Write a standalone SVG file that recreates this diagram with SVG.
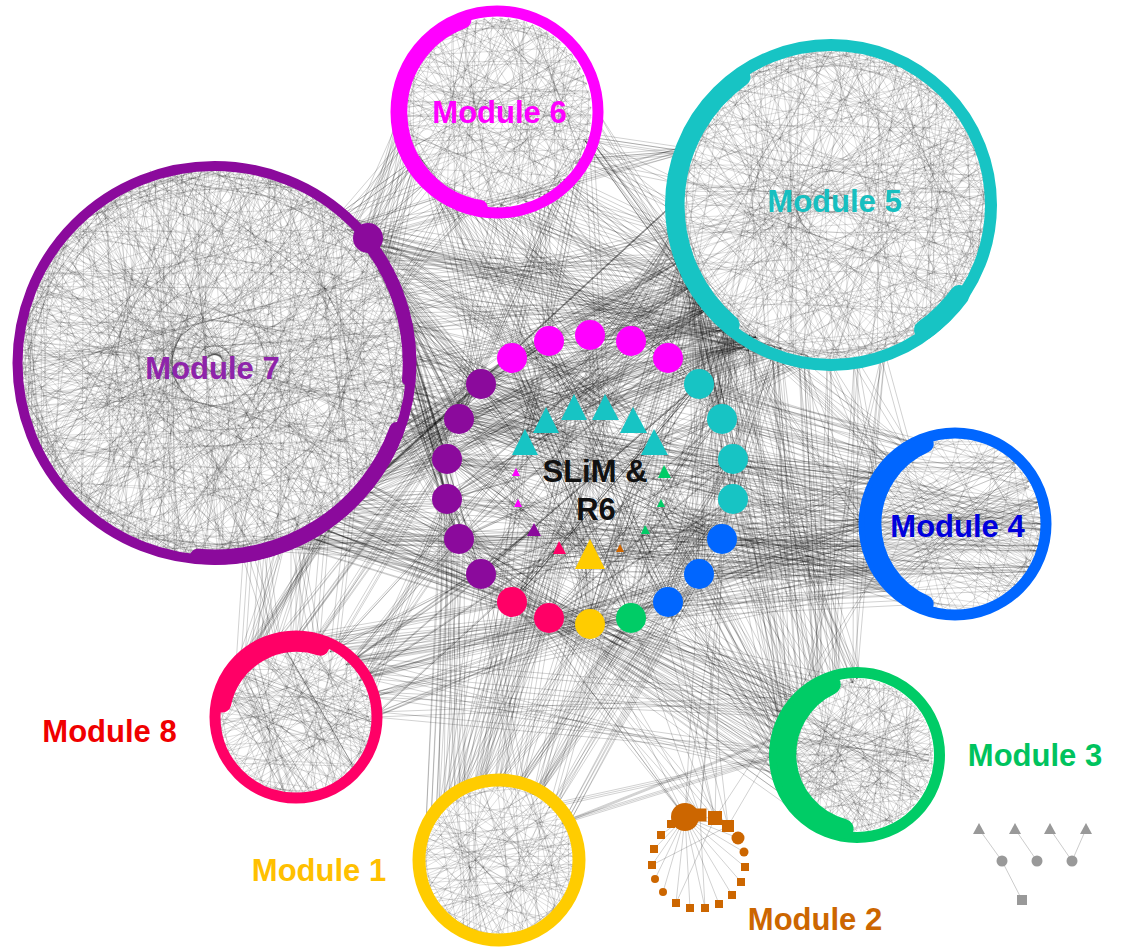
<svg xmlns="http://www.w3.org/2000/svg" xmlns:xlink="http://www.w3.org/1999/xlink" width="1123" height="947" viewBox="0 0 1123 947">
<style>
.e{fill:none;stroke:#000;stroke-opacity:.22;stroke-width:.6}
.el{fill:none;stroke:#000;stroke-opacity:.3;stroke-width:.6}
.lbl{font-family:"Liberation Sans",Arial,Helvetica,sans-serif;font-weight:bold;font-size:31px;text-anchor:middle}
.ring{fill:none}
.arc{fill:none;stroke-linecap:round}
.mg{fill:#FF00FF}.cy{fill:#17C4C4}.pu{fill:#8B0A9C}.bl{fill:#0066FF}.gr{fill:#00CC66}.ye{fill:#FFCC00}.pk{fill:#FF0066}.or{fill:#CC6600}
.lg{fill:#999}
</style>
<defs>
<path id="chA" vector-effect="non-scaling-stroke" d="M100 0L-91 42L77 64L-71 -71L9 100L64 -77L-50 87L97 26L-97 -26L50 87L9 -100L-77 64L87 -50L-17 99L-34 -94L91 42L-100 0L99 -17L-71 71L34 -94L34 94L-82 -57L100 9L-97 26L50 -87L71 71L-57 -82L-34 94L94 -34L-99 -17L57 82L-9 -100L-87 50L71 -71L17 99L-91 -42L94 34L26 -97L-57 82L-42 -91L82 57L-100 9L82 -57L-9 100L-17 -99L99 17L-77 -64L-82 57L57 -82L42 91L-94 -34L97 -26L-42 91L0 -100L87 50L-100 -9L0 100L42 -91L-94 34L64 77L-50 -87L91 -42L-64 77L17 -99L26 97L-87 -50L100 -9L-99 17L77 -64L-26 97L-26 -97Z"/>
<path id="chC" vector-effect="non-scaling-stroke" d="M100 0L71 71L-94 -34L-57 -82L0 100L-71 71L50 -87L87 -50L-91 42L-100 -9L91 42L-34 -94L26 -97L-34 94L34 94L-71 -71L99 -17L-100 9L-64 77L71 -71L99 17L57 82L-9 -100L-87 -50L17 99L-50 87L34 -94L-42 -91L-97 26L94 -34L82 57L-82 57L-99 -17L57 -82L-17 99L-77 -64L9 -100L97 26L50 87L82 -57L-99 17L-64 -77L-9 100L100 -9L-77 64L-26 -97L77 64L-97 -26L42 -91L26 97L-42 91L0 -100L100 9L-100 0L-82 -57L77 -64L-87 50L64 77L-50 -87L91 -42L-26 97L-94 34L17 -99L94 34L9 100L-91 -42L-17 -99L97 -26L-57 82L42 91L64 -77L87 50Z"/>
<path id="chD" vector-effect="non-scaling-stroke" d="M100 0L-97 26M99 17L-100 -9M94 34L-99 17M82 57L-91 -42M71 71L-97 -26M50 87L-77 -64M26 97L-64 -77M9 100L-17 -99M-17 99L-34 -94M-34 94L9 -100M-57 82L34 -94M-71 71L57 -82M-87 50L64 -77M-94 34L91 -42M-100 9L87 -50M-99 -17L97 -26M-94 -34L100 -9"/>
<path id="m4" d="M869 524L1041 524L872 502L1038 546L881 481L1029 567L894 463L1016 585L872 546L1038 502L881 567L1029 481L894 585L1016 463L869 524L998 450L872 546L998 598L881 481L1041 524L872 502L1029 567L894 585L1038 502L881 567L1041 524L869 524L1016 463L894 463L1038 546L872 546L1029 481"/>
<path id="m3" d="M785 755L929 755L789 730L919 791L802 709L893 817L789 780L919 719L802 801L893 693L785 755L870 826L789 730L929 755L802 709L919 791L789 780L870 684L785 755L893 817"/>
<path id="m8" d="M227 692L369 717L240 670L365 742L260 654L352 764L283 645L333 780L227 692L309 789L240 670L369 717L260 654L365 692L283 645L352 764L240 670L283 789L227 692L365 742"/>
<path id="f1" d="M363 238L481 384L383 266L459 419L397 296L447 459L406 329L447 499L409 363L459 539L406 397L481 574L397 430L512 358L391 445L549 341L383 460L459 419L374 475L447 459L363 488L481 384L352 501L447 499L339 512L459 539L326 523L512 602L312 532L549 618L296 540L481 574L391 281L525 443L402 313L546 420L408 346L574 407L408 380L590 555L402 413L534 530L374 251L605 407L352 225L633 420"/>
<path id="f2" d="M363 238L710 307L374 251L694 284L352 225L729 326L383 266L683 259L391 281L752 342L397 296L675 232L402 313L710 307L406 329L694 284L409 363L729 326L406 397L683 259L397 430L752 342L391 445L710 307L383 460L777 353L374 475L694 284L363 488L729 326L352 501L673 205L339 512L752 342L365 240L804 361L368 236L683 151L369 242L777 353"/>
<path id="f3" d="M710 307L699 384L694 284L722 419L729 326L733 459L683 259L668 358L752 342L733 499L675 232L631 341L777 353L722 539L710 307L590 335L694 284L549 341L729 326L512 358L683 259L481 384L752 342L459 419L710 307L447 459L694 284L699 574L729 326L654 443L804 361L633 420L683 259L605 407L752 342L574 407L675 232L546 420L710 307L525 443L777 353L668 602L729 326L631 618L694 284L590 624L752 342L447 499"/>
<path id="f4" d="M564 179L512 358L544 194L549 341L522 204L590 335L497 207L631 341L472 204L668 358L450 194L481 384L430 179L574 407L415 159L605 407L589 137L525 443L579 159L459 419L564 179L699 384L544 194L722 419L522 204L447 459L497 207L546 420L472 204L633 420L450 194L590 555L430 179L363 238L415 159L383 266L405 137L352 225L450 194L397 296L472 204L694 284L497 207L710 307L522 204L683 259L544 194L675 232L564 179L729 326L589 137L683 151L579 159L673 205"/>
<path id="f5" d="M867 524L722 539L870 547L699 574L879 568L668 602L893 586L733 499L870 501L733 459L879 480L722 419L893 462L699 384L911 448L631 618L867 524L590 624L870 547L654 443L879 568L447 499L893 586L459 539L870 501L447 459L879 480L481 574L867 524L549 618L911 600L722 539L893 586L660 503L870 547L645 530L879 568L590 555L870 501L406 397L867 524L402 413L879 480L397 430"/>
<path id="f6" d="M781 755L668 602L784 735L699 574L791 717L631 618L803 701L722 539L819 689L590 624L837 682L733 499L784 775L549 618L791 793L645 530L781 755L660 503L784 735L664 472L791 717L733 459L803 701L777 353L819 689L804 361L837 682L752 342L857 679L722 419L803 809L512 602L784 775L459 539L781 755L481 574L791 717L339 512L784 735L363 488L803 701L590 555"/>
<path id="f7" d="M296 639L512 602L316 642L549 618L335 649L481 574L351 662L459 539L364 678L447 499L371 697L590 624L374 717L559 548L364 678L534 530L351 662L525 443L335 649L447 459L316 642L459 419L296 639L481 384L276 642L264 551L257 649L281 546L241 662L248 555L276 642L312 532L296 639L296 540L316 642L326 523L257 649L339 512L241 662L352 501L335 649L631 618L351 662L668 602L364 678L699 574"/>
<path id="f8" d="M499 782L590 624L479 785L549 618L460 792L512 602L444 805L481 574L519 785L631 618L538 792L668 602L554 805L699 574L567 821L722 539L538 792L590 555L519 785L559 548L499 782L534 530L479 785L525 443L460 792L459 539L444 805L447 499L431 821L447 459L460 792L605 407L479 785L574 407L499 782L733 499L519 785L733 459L538 792L654 443L554 805L781 755L567 821L784 735"/>
<path id="f9" d="M685 817L590 624L700 815L631 618L715 818L668 602L728 826L699 574L685 817L549 618L700 815L512 602L685 817L447 499L715 818L722 539L700 815L733 459L685 817L397 430L728 826L879 568L715 818L605 407"/>
<path id="f10" d="M374 717L781 755L371 697L791 717L364 678L784 775L351 662L803 701L374 717L867 524L364 678L879 568L371 697L893 586L351 662L870 547L339 512L781 755L352 501L784 735L363 488L791 717L326 523L803 701L312 532L870 547L296 540L879 568L281 546L867 524L264 551L893 586L402 413L870 501L406 397L879 480L409 363L893 462L406 329L911 448L397 296L867 524"/>
<path id="f11" d="M804 361L911 448L777 353L893 462L831 363L879 480L858 361L911 448L885 353L867 524L804 361L819 689L831 363L837 682L858 361L857 679L885 353L803 701L777 353L791 717L752 342L784 735L729 326L819 689L710 307L857 679L694 284L893 462L683 259L867 524L589 137L683 151L579 159L675 178L589 137L710 307L564 179L683 259L589 137L694 284L598 112L675 232L589 137L673 205"/>
<path id="f12" d="M405 137L339 214L415 159L352 225L402 112L363 238L405 137L374 251L430 179L339 214L415 159L383 266L450 194L363 238L405 87L368 238L415 159L391 281L472 204L352 225"/>
<path id="f13" d="M481 384L733 459L459 419L722 539L447 459L699 574L447 499L668 358L459 539L631 341L481 574L699 384L512 602L722 419L549 618L733 499L590 624L590 335L631 618L512 358L668 602L549 341L699 574L481 384L722 539L459 419L733 499L447 459L631 618L512 358L590 624L668 358L512 602L699 384L481 574L733 459L549 618L631 341L447 499L722 419L459 539L668 602L549 341L590 624"/>
<path id="f14" d="M525 443L733 499L546 420L722 539L574 407L699 574L605 407L481 574L633 420L459 539L654 443L447 499L525 443L668 602L546 420L631 618L574 407L590 624L605 407L549 618L633 420L512 602L654 443L459 419L590 555L481 384L590 555L699 384L590 555L447 459L590 555L733 459"/>
<path id="f15" d="M1041 524L733 499L1038 546L722 539L1029 567L699 574L1038 502L733 459L1016 585L668 602L1029 481L722 419L1041 524L447 499L1038 546L459 539L1029 567L481 574L1038 502L447 459L1016 463L699 384"/>
</defs>
<rect width="1123" height="947" fill="#fff"/>
<g id="connectors">
<g class="e">
<use href="#chA" transform="translate(214.5 363) scale(1.95)"/>
<use href="#chA" transform="translate(214.5 363) scale(1.95) rotate(43)"/>
<use href="#chC" transform="translate(214.5 363) scale(1.95) rotate(9)"/>
<use href="#chC" transform="translate(214.5 363) scale(1.95) rotate(31)"/>
<use href="#chC" transform="translate(214.5 363) scale(1.95) rotate(62)"/>
<use href="#chC" transform="translate(214.5 363) scale(1.95) rotate(-18)"/>
<use href="#chC" transform="translate(214.5 363) scale(1.95) rotate(47)"/>
<use href="#chC" transform="translate(214.5 363) scale(1.95) rotate(83)"/>
<use href="#chD" transform="translate(214.5 363) scale(1.95) rotate(2)"/>
<use href="#chD" transform="translate(214.5 363) scale(1.95) rotate(-71)"/>
<path d="M30 300L400 420M60 480L380 250M150 170L280 560M20 400L410 330M100 200L330 530M40 440L390 290M180 168L240 558M25 345L405 385"/>
<use href="#chA" transform="translate(831 205) scale(1.56) rotate(5)"/>
<use href="#chC" transform="translate(831 205) scale(1.56) rotate(14)"/>
<use href="#chC" transform="translate(831 205) scale(1.56) rotate(51)"/>
<use href="#chC" transform="translate(831 205) scale(1.56) rotate(33)"/>
<use href="#chC" transform="translate(831 205) scale(1.56) rotate(-9)"/>
<use href="#chD" transform="translate(831 205) scale(1.56) rotate(4)"/>
<use href="#chA" transform="translate(497 112) scale(.94) rotate(7)"/>
<use href="#chC" transform="translate(497 112) scale(.94) rotate(48)"/>
<use href="#chC" transform="translate(497 112) scale(.94) rotate(22)"/>
<use href="#chC" transform="translate(955 524) scale(.86) rotate(3)"/>
<use href="#chA" transform="translate(857 755) scale(.76) rotate(12)"/>
<use href="#chC" transform="translate(857 755) scale(.76) rotate(40)"/>
<use href="#chA" transform="translate(296 717) scale(.78) rotate(24)"/>
<use href="#chC" transform="translate(296 717) scale(.78) rotate(3)"/>
<use href="#chA" transform="translate(499 860) scale(.78) rotate(33)"/>
<use href="#chC" transform="translate(499 860) scale(.78) rotate(17)"/>
<use href="#m4"/><use href="#m4" transform="translate(0 6)"/><use href="#m4" transform="translate(2 -6)"/>
<use href="#m3"/><use href="#m3" transform="translate(0 6)"/>
<use href="#m8"/><use href="#m8" transform="translate(3 5)"/>
</g>
<g class="el">
<use href="#f1"/><use href="#f1" transform="translate(4 -5)"/><use href="#f1" transform="translate(-5 4)"/><use href="#f1" transform="translate(2 7)"/><use href="#f1" transform="translate(-3 -8)"/>
<use href="#f2"/><use href="#f2" transform="translate(4 -5)"/><use href="#f2" transform="translate(-5 4)"/>
<use href="#f3"/><use href="#f3" transform="translate(4 -5)"/><use href="#f3" transform="translate(-5 4)"/><use href="#f3" transform="translate(6 3)"/><use href="#f3" transform="translate(-2 -7)"/>
<use href="#f4"/><use href="#f4" transform="translate(4 -3)"/><use href="#f4" transform="translate(-5 2)"/>
<use href="#f5"/><use href="#f5" transform="translate(2 -6)"/><use href="#f5" transform="translate(-3 5)"/>
<use href="#f6"/><use href="#f6" transform="translate(4 -5)"/><use href="#f6" transform="translate(-5 4)"/>
<use href="#f7"/><use href="#f7" transform="translate(4 -4)"/><use href="#f7" transform="translate(-5 3)"/>
<use href="#f8"/><use href="#f8" transform="translate(5 -3)"/><use href="#f8" transform="translate(-5 3)"/>
<use href="#f9"/>
<use href="#f10"/><use href="#f10" transform="translate(4 -5)"/>
<use href="#f11"/><use href="#f11" transform="translate(-4 4)"/>
<use href="#f12"/><use href="#f12" transform="translate(4 3)"/>
<use href="#f13"/><use href="#f13" transform="translate(3 -3)"/><use href="#f13" transform="translate(-4 2)"/>
<use href="#f14"/>
<use href="#f15"/><use href="#f15" transform="translate(0 5)"/>
<path d="M685 817L700 815M685 817L715 818M685 817L728 826M685 817L738 838M685 817L744 852M685 817L745 867M685 817L741 882M685 817L732 895M685 817L719 904M685 817L705 908M685 817L690 908M685 817L676 903M685 817L663 892M685 817L655 879M685 817L652 865M685 817L654 849M685 817L661 835M685 817L671 824M700 815L705 908M715 818L676 903M728 826L652 865"/>
</g>
<g fill="none" stroke="#ccc" stroke-width="1">
<path d="M979 829L1002 861L1022 900M1015 829L1037 861M1050 829L1072 861L1086 829"/>
</g>
</g>
<g id="module-7">
<circle class="ring" cx="214.5" cy="363" r="197" stroke="#8B0A9C" stroke-width="10"/>
<path class="arc" d="M396.8 429.4A194 194 0 0 1 197.6 556.3" stroke="#8B0A9C" stroke-width="15"/>
<path class="arc" d="M363 237A197 197 0 0 1 408 380" stroke="#8B0A9C" stroke-width="12"/>
<circle class="pu" cx="368" cy="238" r="15"/>
<text class="lbl" x="212.5" y="379" fill="#8E24AA">Module 7</text>
</g>
<g id="module-6">
<circle class="ring" cx="497" cy="112" r="101" stroke="#FF00FF" stroke-width="11"/>
<path class="arc" d="M479.9 208A97.5 97.5 0 0 1 463.3 20.4" stroke="#FF00FF" stroke-width="16"/>
<text class="lbl" x="499.5" y="123" fill="#FF00FF">Module 6</text>
</g>
<g id="module-5">
<circle class="ring" cx="831" cy="205" r="160" stroke="#17C4C4" stroke-width="12"/>
<path class="arc" d="M730.7 324.5A157 157 0 0 1 741.5 77.2" stroke="#17C4C4" stroke-width="18"/>
<path class="arc" d="M959.6 295A157 157 0 0 1 924 330" stroke="#17C4C4" stroke-width="20"/>
<text class="lbl" x="834.5" y="212" fill="#17BFC0">Module 5</text>
</g>
<g id="module-4">
<circle class="ring" cx="955" cy="524" r="91" stroke="#0066FF" stroke-width="11"/>
<path class="arc" d="M925.2 603.8A87 87 0 0 1 925.2 444.2" stroke="#0066FF" stroke-width="17"/>
<text class="lbl" x="957.5" y="537" fill="#0000DD">Module 4</text>
</g>
<g id="module-3">
<circle class="ring" cx="857" cy="755" r="82.5" stroke="#00CC66" stroke-width="11"/>
<path class="arc" d="M843.6 828.8A77 77 0 0 1 830.7 684.6" stroke="#00CC66" stroke-width="20"/>
<text class="lbl" x="1035" y="766" fill="#00C35E">Module 3</text>
</g>
<g id="module-8">
<circle class="ring" cx="296" cy="717" r="81" stroke="#FF0066" stroke-width="11"/>
<path class="arc" d="M222.2 703.6A76 76 0 0 1 320.3 646.6" stroke="#FF0066" stroke-width="18"/>
<text class="lbl" x="109.5" y="742" fill="#F00000">Module 8</text>
</g>
<g id="module-1">
<circle class="ring" cx="499" cy="860" r="80" stroke="#FFCC00" stroke-width="13"/>
<text class="lbl" x="319" y="881" fill="#FFC000">Module 1</text>
</g>
<g id="module-2">
<circle class="or" cx="685" cy="817" r="14"/>
<rect class="or" x="693.5" y="808.5" width="13" height="13"/>
<rect class="or" x="708" y="811" width="14" height="14"/>
<rect class="or" x="722" y="820" width="12" height="12"/>
<circle class="or" cx="738" cy="838" r="6.5"/>
<circle class="or" cx="744" cy="852" r="4.5"/>
<rect class="or" x="741" y="863" width="8" height="8"/>
<rect class="or" x="737" y="878" width="8" height="8"/>
<rect class="or" x="728" y="891" width="8" height="8"/>
<rect class="or" x="715" y="900" width="8" height="8"/>
<rect class="or" x="701" y="904" width="8" height="8"/>
<rect class="or" x="686" y="904" width="8" height="8"/>
<rect class="or" x="672" y="899" width="8" height="8"/>
<circle class="or" cx="663" cy="892" r="4"/>
<circle class="or" cx="655" cy="879" r="4"/>
<rect class="or" x="648" y="861" width="8" height="8"/>
<rect class="or" x="650" y="845" width="8" height="8"/>
<rect class="or" x="657" y="831" width="8" height="8"/>
<rect class="or" x="667" y="820" width="8" height="8"/>
<text class="lbl" x="815" y="930" fill="#CC6600">Module 2</text>
</g>
<g id="center">
<g id="c-mg1"><circle class="mg" cx="512" cy="358" r="15"/></g>
<g id="c-mg2"><circle class="mg" cx="549" cy="341" r="15"/></g>
<g id="c-mg3"><circle class="mg" cx="590" cy="335" r="15"/></g>
<g id="c-mg4"><circle class="mg" cx="631" cy="341" r="15"/></g>
<g id="c-mg5"><circle class="mg" cx="668" cy="358" r="15"/></g>
<g id="c-cy1"><circle class="cy" cx="699" cy="384" r="15"/></g>
<g id="c-cy2"><circle class="cy" cx="722" cy="419" r="15"/></g>
<g id="c-cy3"><circle class="cy" cx="733" cy="459" r="15"/></g>
<g id="c-cy4"><circle class="cy" cx="733" cy="499" r="15"/></g>
<g id="c-bl1"><circle class="bl" cx="722" cy="539" r="15"/></g>
<g id="c-bl2"><circle class="bl" cx="699" cy="574" r="15"/></g>
<g id="c-bl3"><circle class="bl" cx="668" cy="602" r="15"/></g>
<g id="c-gr1"><circle class="gr" cx="631" cy="618" r="15"/></g>
<g id="c-ye1"><circle class="ye" cx="590" cy="624" r="15"/></g>
<g id="c-pk1"><circle class="pk" cx="549" cy="618" r="15"/></g>
<g id="c-pk2"><circle class="pk" cx="512" cy="602" r="15"/></g>
<g id="c-pu1"><circle class="pu" cx="481" cy="574" r="15"/></g>
<g id="c-pu2"><circle class="pu" cx="459" cy="539" r="15"/></g>
<g id="c-pu3"><circle class="pu" cx="447" cy="499" r="15"/></g>
<g id="c-pu4"><circle class="pu" cx="447" cy="459" r="15"/></g>
<g id="c-pu5"><circle class="pu" cx="459" cy="419" r="15"/></g>
<g id="c-pu6"><circle class="pu" cx="481" cy="384" r="15"/></g>
<g id="t-cy1"><polygon class="cy" points="525,429 512,455 538,455"/></g>
<g id="t-cy2"><polygon class="cy" points="546,407 533,433 559,433"/></g>
<g id="t-cy3"><polygon class="cy" points="574,394 561,420 587,420"/></g>
<g id="t-cy4"><polygon class="cy" points="605,394 592,420 619,420"/></g>
<g id="t-cy5"><polygon class="cy" points="633,407 620,433 647,433"/></g>
<g id="t-cy6"><polygon class="cy" points="654,429 641,455 668,455"/></g>
<g id="t-ye"><polygon class="ye" points="590,539 575,569 605,569"/></g>
<g id="t-mg1"><polygon class="mg" points="516,468 512,476 520,476"/></g>
<g id="t-mg2"><polygon class="mg" points="518,499 514,507 522,507"/></g>
<g id="t-pu"><polygon class="pu" points="534,523 527,536 541,536"/></g>
<g id="t-pk"><polygon class="pk" points="559,541 553,554 566,554"/></g>
<g id="t-or"><polygon class="or" points="620,544 616,552 624,552"/></g>
<g id="t-gr1"><polygon class="gr" points="645,525 641,534 650,534"/></g>
<g id="t-gr2"><polygon class="gr" points="661,499 657,507 665,507"/></g>
<g id="t-gr3"><polygon class="gr" points="664,465 658,478 671,478"/></g>
<text class="lbl" x="595" y="482" fill="#111">SLiM &amp;</text>
<text class="lbl" x="596" y="520" fill="#111">R6</text>
</g>
<g id="legend">
<polygon class="lg" points="979,823 973,834 985,834"/>
<polygon class="lg" points="1015,823 1009,834 1021,834"/>
<polygon class="lg" points="1050,823 1044,834 1056,834"/>
<polygon class="lg" points="1086,823 1080,834 1092,834"/>
<circle class="lg" cx="1002" cy="861" r="5.5"/>
<circle class="lg" cx="1037" cy="861" r="5.5"/>
<circle class="lg" cx="1072" cy="861" r="5.5"/>
<rect class="lg" x="1017" y="895" width="10" height="10"/>
</g>
</svg>
